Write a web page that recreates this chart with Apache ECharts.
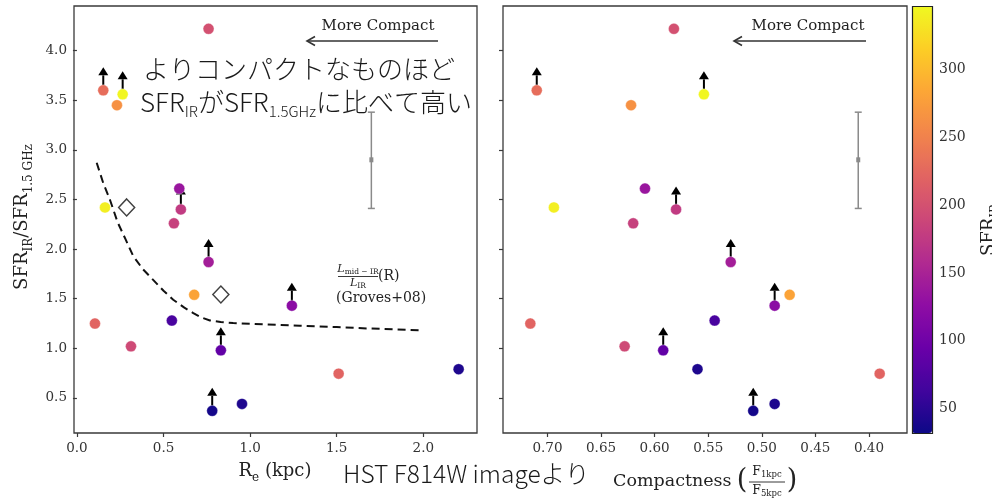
<!DOCTYPE html>
<html><head><meta charset="utf-8">
<script src="https://cdn.jsdelivr.net/npm/echarts@6/dist/echarts.min.js"></script>
<style>html,body{margin:0;padding:0;background:#fff}#c{width:992px;height:501px}</style>
</head><body><div id="c"></div>
<script>
// ---- data ----
const Re         = [0.760, 0.152, 0.264, 0.231, 0.162, 0.591, 0.600, 0.560, 0.760, 0.677, 1.241, 0.104, 0.548, 0.312, 0.831, 1.511, 2.204, 0.781, 0.953];
const compact    = [0.582, 0.710, 0.554, 0.622, 0.694, 0.609, 0.580, 0.620, 0.529, 0.474, 0.488, 0.716, 0.544, 0.628, 0.592, 0.390, 0.560, 0.508, 0.488];
const ratio      = [4.22, 3.60, 3.56, 3.45, 2.42, 2.61, 2.40, 2.26, 1.87, 1.54, 1.43, 1.25, 1.28, 1.02, 0.98, 0.745, 0.79, 0.37, 0.44];
const sfrIR      = [200, 230, 345, 265, 340, 136, 177, 183, 145, 281, 123, 221, 70, 193, 89, 221, 42, 36, 42];
const lowerLimit = [0, 1, 1, 0, 0, 0, 1, 0, 1, 0, 1, 0, 0, 0, 1, 0, 0, 1, 0];

const grovesR     = [0.114, 0.152, 0.19, 0.235, 0.283, 0.325, 0.38, 0.44, 0.50, 0.556, 0.62, 0.672, 0.72, 0.768, 0.83, 0.902, 1.10, 1.288, 1.50, 1.672, 1.85, 2.00];
const grovesRatio = [2.87, 2.665, 2.50, 2.27, 2.09, 1.93, 1.80, 1.69, 1.58, 1.49, 1.41, 1.356, 1.31, 1.281, 1.265, 1.255, 1.24, 1.228, 1.215, 1.201, 1.19, 1.18];

const diamondR     = [0.287, 0.831];
const diamondRatio = [2.42, 1.543];

const errX   = [1.70, 0.41];   // left panel R_e, right panel compactness
const errMid = 2.90, errLow = 2.41, errHigh = 3.38;

const xTicksLeft  = [0.0, 0.5, 1.0, 1.5, 2.0];
const xTicksRight = [0.70, 0.65, 0.60, 0.55, 0.50, 0.45, 0.40];
const yTicks      = [0.5, 1.0, 1.5, 2.0, 2.5, 3.0, 3.5, 4.0];
const cbTicks     = [50, 100, 150, 200, 250, 300];

const plasma = ['#0d0887','#41049d','#6a00a8','#8f0da4','#b12a90','#cc4778','#e16462','#f2844b','#fca636','#fcce25','#f0f921'];

// ---- helpers ----
const SERIF = 'DejaVu Serif';
const JP = 'Noto Sans CJK JP';
const axisCol = '#3a3a3a';
const tickFont = {fontFamily: SERIF, fontSize: 13.5, color: '#333'};

function arrowRender(params, api) {
  const p = api.coord([api.value(0), api.value(1)]);
  const len = 23, hw = 5, hh = 8;
  return {type: 'group', children: [
    {type: 'line', shape: {x1: p[0], y1: p[1], x2: p[0], y2: p[1] - len + hh}, style: {stroke: '#000', lineWidth: 2}},
    {type: 'polygon', shape: {points: [[p[0] - hw, p[1] - len + hh], [p[0] + hw, p[1] - len + hh], [p[0], p[1] - len]]}, style: {fill: '#000'}}
  ]};
}
function errRender(params, api) {
  const x = api.value(0);
  const pl = api.coord([x, api.value(2)]), ph = api.coord([x, api.value(3)]), pc = api.coord([x, api.value(1)]);
  const st = {stroke: '#8a8a8a', lineWidth: 1.5};
  return {type: 'group', children: [
    {type: 'line', shape: {x1: pl[0], y1: pl[1], x2: ph[0], y2: ph[1]}, style: st},
    {type: 'line', shape: {x1: pl[0] - 3.5, y1: pl[1], x2: pl[0] + 3.5, y2: pl[1]}, style: st},
    {type: 'line', shape: {x1: ph[0] - 3.5, y1: ph[1], x2: ph[0] + 3.5, y2: ph[1]}, style: st},
    {type: 'rect', shape: {x: pc[0] - 2, y: pc[1] - 2.5, width: 4, height: 5}, style: {fill: '#8a8a8a'}}
  ]};
}

const leftPts  = Re.map((r, i) => [r, ratio[i], sfrIR[i]]);
const rightPts = compact.map((c, i) => [c, ratio[i], sfrIR[i]]);
const leftArrows  = Re.map((r, i) => [r, ratio[i]]).filter((d, i) => lowerLimit[i]);
const rightArrows = compact.map((c, i) => [c, ratio[i]]).filter((d, i) => lowerLimit[i]);
const groves = grovesR.map((r, i) => [r, grovesRatio[i]]);
const diamonds = diamondR.map((r, i) => [r, diamondRatio[i]]);

const gridBase = {top: 6, height: 427, show: true, borderColor: axisCol, borderWidth: 1.3, backgroundColor: 'transparent'};

function xAx(idx, min, max, ticks, inverse, fmt) {
  return {gridIndex: idx, type: 'value', min: min, max: max, inverse: inverse,
    axisLine: {show: false}, splitLine: {show: false},
    axisTick: {show: true, length: 4, lineStyle: {color: axisCol, width: 1.2}, customValues: ticks},
    axisLabel: Object.assign({customValues: ticks, margin: 8, formatter: fmt}, tickFont)};
}
function yAx(idx, showLabels) {
  return {gridIndex: idx, type: 'value', min: 0.147, max: 4.45,
    axisLine: {show: false}, splitLine: {show: false},
    axisTick: {show: true, length: 4, lineStyle: {color: axisCol, width: 1.2}, customValues: yTicks},
    axisLabel: Object.assign({show: showLabels, customValues: yTicks, margin: 7, formatter: v => v.toFixed(1)}, tickFont)};
}

function moreCompact(cx, x1, x2) {
  return [
    {type: 'text', x: cx, y: 26, style: {text: 'More Compact', font: '15px "' + SERIF + '"', fill: '#222', align: 'center', verticalAlign: 'middle'}, z: 50},
    {type: 'polyline', shape: {points: [[x1, 41], [x2, 41]]}, style: {stroke: '#333', lineWidth: 1.6}, z: 50},
    {type: 'polyline', shape: {points: [[x2 + 8, 36.5], [x2, 41], [x2 + 8, 45.5]]}, style: {stroke: '#333', lineWidth: 1.6, fill: null}, z: 50}
  ];
}

const subRich = (size, base) => ({
  b: {fontFamily: SERIF, fontSize: base, lineHeight: base + 8, verticalAlign: 'middle'},
  s: {fontFamily: SERIF, fontSize: size, lineHeight: base + 8, verticalAlign: 'bottom'}
});
const fracRich = {
  b: {fontFamily: SERIF, fontSize: 12.5, lineHeight: 14, verticalAlign: 'middle'},
  s: {fontFamily: SERIF, fontSize: 8.5, lineHeight: 14, verticalAlign: 'bottom'}
};

const graphics = [].concat(
  moreCompact(378, 438, 307),
  moreCompact(808, 866, 734),
  [
    // Groves annotation
    {type: 'text', x: 358, y: 269, style: {text: '{i|L}{s|mid − IR}', align: 'center', verticalAlign: 'middle', fill: '#222',
      rich: {i: {fontFamily: SERIF, fontStyle: 'italic', fontSize: 11, lineHeight: 14, verticalAlign: 'middle'}, s: {fontFamily: SERIF, fontSize: 7.5, lineHeight: 14, verticalAlign: 'bottom'}}}, z: 50},
    {type: 'line', shape: {x1: 338, y1: 276.5, x2: 378, y2: 276.5}, style: {stroke: '#222', lineWidth: 0.9}, z: 50},
    {type: 'text', x: 358, y: 283.5, style: {text: '{i|L}{s|IR}', align: 'center', verticalAlign: 'middle', fill: '#222',
      rich: {i: {fontFamily: SERIF, fontStyle: 'italic', fontSize: 11, lineHeight: 14, verticalAlign: 'middle'}, s: {fontFamily: SERIF, fontSize: 7.5, lineHeight: 14, verticalAlign: 'bottom'}}}, z: 50},
    {type: 'text', x: 378, y: 276, style: {text: '(R)', font: '14px "' + SERIF + '"', fill: '#222', align: 'left', verticalAlign: 'middle'}, z: 50},
    {type: 'text', x: 336, y: 298, style: {text: '(Groves+08)', font: '14px "' + SERIF + '"', fill: '#222', align: 'left', verticalAlign: 'middle'}, z: 50},

    // Japanese overlay
    {type: 'text', x: 143, y: 69, style: {text: 'よりコンパクトなものほど', font: '300 26px "' + JP + '"', fill: '#1a1a1a', align: 'left', verticalAlign: 'middle'}, z: 60},
    {type: 'text', x: 140, y: 102, style: {text: '{b|SFR}{s|IR}{b|が}{b|SFR}{s|1.5GHz}{b|に比べて高い}', align: 'left', verticalAlign: 'middle', fill: '#1a1a1a',
      rich: {b: {fontFamily: JP, fontWeight: 300, fontSize: 26, lineHeight: 34, verticalAlign: 'middle'}, s: {fontFamily: JP, fontWeight: 300, fontSize: 15, lineHeight: 34, verticalAlign: 'bottom'}}}, z: 60},
    {type: 'text', x: 343, y: 474, style: {text: 'HST F814W imageより', font: '300 24.5px "' + JP + '"', fill: '#1a1a1a', align: 'left', verticalAlign: 'middle'}, z: 60},

    // axis titles
    {type: 'text', x: 275, y: 471, style: {text: '{b|R}{s|e}{b| (kpc)}', align: 'center', verticalAlign: 'middle', fill: '#222', rich: subRich(12, 18)}, z: 50},
    {type: 'text', x: 22, y: 217, rotation: Math.PI / 2, style: {text: '{b|SFR}{s|IR}{b|/SFR}{s|1.5 GHz}', align: 'center', verticalAlign: 'middle', fill: '#222', rich: subRich(12, 18)}, z: 50},
    {type: 'text', x: 613, y: 481, style: {text: 'Compactness', font: '17.5px "' + SERIF + '"', fill: '#222', align: 'left', verticalAlign: 'middle'}, z: 50},
    {type: 'text', x: 742, y: 481, style: {text: '(', font: '100 27px "' + SERIF + '"', fill: '#222', align: 'center', verticalAlign: 'middle'}, z: 50},
    {type: 'text', x: 792, y: 481, style: {text: ')', font: '100 27px "' + SERIF + '"', fill: '#222', align: 'center', verticalAlign: 'middle'}, z: 50},
    {type: 'text', x: 767, y: 472, style: {text: '{b|F}{s|1kpc}', align: 'center', verticalAlign: 'middle', fill: '#222', rich: fracRich}, z: 50},
    {type: 'line', shape: {x1: 749, y1: 482, x2: 785, y2: 482}, style: {stroke: '#222', lineWidth: 0.9}, z: 50},
    {type: 'text', x: 767, y: 491, style: {text: '{b|F}{s|5kpc}', align: 'center', verticalAlign: 'middle', fill: '#222', rich: fracRich}, z: 50},

    // colorbar title
    {type: 'text', x: 989, y: 230, rotation: Math.PI / 2, style: {text: '{b|SFR}{s|IR}', align: 'center', verticalAlign: 'middle', fill: '#222', rich: subRich(12, 18)}, z: 50},
    // colorbar frame
    {type: 'rect', shape: {x: 912.5, y: 6.5, width: 20, height: 427}, style: {fill: null, stroke: '#222', lineWidth: 1.2}, z: 100}
  ]
);

const chart = echarts.init(document.getElementById('c'), null, {renderer: 'canvas'});
chart.setOption({
  animation: false,
  backgroundColor: '#fff',
  grid: [
    Object.assign({left: 74, width: 403}, gridBase),
    Object.assign({left: 503, width: 404}, gridBase),
    {left: 912, top: 6, width: 20, height: 427, show: false}
  ],
  xAxis: [
    xAx(0, -0.017, 2.31, xTicksLeft, false, v => v.toFixed(1)),
    xAx(1, 0.3645, 0.7415, xTicksRight, true, v => v.toFixed(2)),
    {gridIndex: 2, type: 'value', show: false, min: 0, max: 1}
  ],
  yAxis: [
    yAx(0, true),
    yAx(1, false),
    {gridIndex: 2, type: 'value', min: 32, max: 347, position: 'right',
      axisLine: {show: false}, splitLine: {show: false},
      axisTick: {show: true, length: 4, lineStyle: {color: axisCol, width: 1.2}, customValues: cbTicks},
      axisLabel: Object.assign({customValues: cbTicks, margin: 7}, tickFont, {fontSize: 14})}
  ],
  visualMap: {
    type: 'continuous', min: 32, max: 347, dimension: 2, seriesIndex: [0, 1],
    inRange: {color: plasma}, orient: 'vertical', left: 912, top: 6,
    itemWidth: 20, itemHeight: 427, padding: 0, text: null, calculable: false, hoverLink: false
  },
  series: [
    {type: 'scatter', xAxisIndex: 0, yAxisIndex: 0, data: leftPts, symbolSize: 11, z: 5,
      itemStyle: {opacity: 1, borderColor: 'rgba(255,255,255,0.6)', borderWidth: 0.6}},
    {type: 'scatter', xAxisIndex: 1, yAxisIndex: 1, data: rightPts, symbolSize: 11, z: 5,
      itemStyle: {opacity: 1, borderColor: 'rgba(255,255,255,0.6)', borderWidth: 0.6}},
    {type: 'custom', xAxisIndex: 0, yAxisIndex: 0, data: leftArrows, renderItem: arrowRender, z: 3},
    {type: 'custom', xAxisIndex: 1, yAxisIndex: 1, data: rightArrows, renderItem: arrowRender, z: 3},
    {type: 'line', xAxisIndex: 0, yAxisIndex: 0, data: groves, showSymbol: false, symbol: 'none', z: 2,
      lineStyle: {color: '#111', width: 2, type: [8, 5]}},
    {type: 'scatter', xAxisIndex: 0, yAxisIndex: 0, data: diamonds, symbol: 'diamond', symbolSize: [16, 17], z: 4,
      itemStyle: {color: '#fff', borderColor: '#111', borderWidth: 1.5}},
    {type: 'custom', xAxisIndex: 0, yAxisIndex: 0, data: [[errX[0], errMid, errLow, errHigh]], renderItem: errRender, z: 2},
    {type: 'custom', xAxisIndex: 1, yAxisIndex: 1, data: [[errX[1], errMid, errLow, errHigh]], renderItem: errRender, z: 2}
  ],
  graphic: graphics
});
</script>
</body></html>
